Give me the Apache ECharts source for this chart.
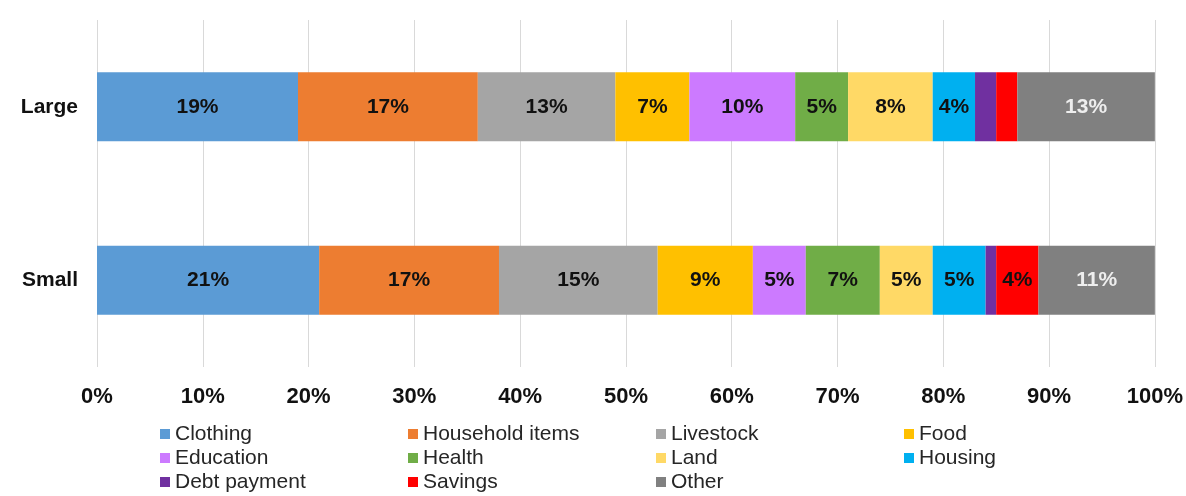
<!DOCTYPE html>
<html>
<head>
<meta charset="utf-8">
<script src="https://cdn.jsdelivr.net/npm/echarts@6/dist/echarts.min.js"></script>
<style>
  html, body { margin: 0; padding: 0; background: #ffffff; }
  #chart { width: 1186px; height: 496px; }
</style>
</head>
<body>
<div id="chart"></div>
<script>
// Household spending shares by loan size (percent of total)
const groups = ['Large', 'Small'];
const categories = ['Clothing', 'Household items', 'Livestock', 'Food', 'Education',
  'Health', 'Land', 'Housing', 'Debt payment', 'Savings', 'Other'];
const largeShares = [19, 17, 13, 7, 10, 5, 8, 4, 2, 2, 13];
const smallShares = [21, 17, 15, 9, 5, 7, 5, 5, 1, 4, 11];
const percentTicks = [0, 10, 20, 30, 40, 50, 60, 70, 80, 90, 100];

const palette = ['#5B9BD5', '#ED7D31', '#A5A5A5', '#FFC000', '#CC7AFF',
  '#70AD47', '#FFD966', '#00B0F0', '#7030A0', '#FF0000', '#808080'];

// segments too narrow to carry a value label: [groupIndex, categoryIndex]
const unlabeled = [[0, 8], [0, 9], [1, 8]];

const font = 'Arial, "Liberation Sans", sans-serif';

const series = categories.map((name, ci) => ({
  name: name,
  type: 'bar',
  stack: 'total',
  barWidth: 69,
  itemStyle: { color: palette[ci] },
  label: {
    show: true,
    position: 'inside',
    fontFamily: font,
    fontWeight: 'bold',
    fontSize: 21,
    color: name === 'Other' ? '#eeeeee' : '#111111',
    formatter: p => p.value + '%'
  },
  emphasis: { disabled: true },
  data: [largeShares[ci], smallShares[ci]].map((v, gi) => {
    const hide = unlabeled.some(u => u[0] === gi && u[1] === ci);
    return hide ? { value: v, label: { show: false } } : v;
  })
}));

// legend laid out in four columns, three rows
const legendColumns = [
  { left: 160, items: ['Clothing', 'Education', 'Debt payment'] },
  { left: 408, items: ['Household items', 'Health', 'Savings'] },
  { left: 656, items: ['Livestock', 'Land', 'Other'] },
  { left: 904, items: ['Food', 'Housing'] }
];

const legends = legendColumns.map(col => ({
  orient: 'vertical',
  left: col.left,
  top: 422,
  padding: 0,
  itemGap: 0,
  itemWidth: 10,
  itemHeight: 10,
  icon: 'rect',
  selectedMode: false,
  data: col.items,
  textStyle: {
    fontFamily: font,
    fontSize: 21,
    lineHeight: 24,
    color: '#262626'
  }
}));

const chart = echarts.init(document.getElementById('chart'), null, { renderer: 'canvas' });
chart.setOption({
  animation: false,
  backgroundColor: '#ffffff',
  legend: legends,
  grid: { left: 97, right: 31, top: 20, bottom: 129, containLabel: false },
  xAxis: {
    type: 'value',
    min: percentTicks[0],
    max: percentTicks[percentTicks.length - 1],
    interval: percentTicks[1] - percentTicks[0],
    axisLine: { show: false },
    axisTick: { show: false },
    splitLine: { show: true, lineStyle: { color: '#d9d9d9', width: 1 } },
    axisLabel: {
      margin: 19,
      fontFamily: font,
      fontWeight: 'bold',
      fontSize: 22,
      color: '#111111',
      formatter: '{value}%'
    }
  },
  yAxis: {
    type: 'category',
    inverse: true,
    data: groups,
    axisLine: { show: false },
    axisTick: { show: false },
    splitLine: { show: false },
    axisLabel: {
      margin: 19,
      fontFamily: font,
      fontWeight: 'bold',
      fontSize: 21,
      color: '#111111'
    }
  },
  series: series
});
</script>
</body>
</html>
